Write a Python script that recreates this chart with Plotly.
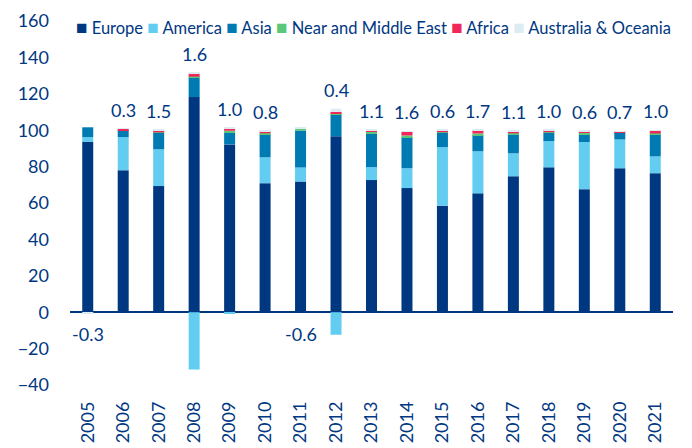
import plotly.graph_objects as go

years = [str(y) for y in range(2005, 2022)]
europe = [93.5, 78.0, 69.3, 118.2, 92.2, 70.9, 71.8, 96.7, 72.6, 68.2, 58.5, 65.3, 74.7, 79.6, 67.6, 79.1, 76.4]
america = [2.7, 18.2, 20.2, -31.5, -1.0, 14.2, 7.7, -12.4, 7.1, 10.9, 32.2, 23.1, 12.6, 14.4, 25.9, 15.8, 9.2]
asia = [5.4, 3.6, 9.1, 10.7, 6.5, 12.7, 20.3, 11.9, 18.2, 17.1, 7.9, 8.9, 10.5, 4.6, 4.3, 3.7, 12.2]
near_east = [0.0, 0.2, 0.2, 0.5, 1.0, 0.5, 1.3, 0.6, 1.1, 0.9, 0.3, 0.9, 0.5, 0.3, 0.8, 0.2, 0.4]
africa = [0.0, 0.7, 1.2, 1.9, 1.4, 1.2, 0.0, 0.8, 1.1, 2.0, 1.1, 1.8, 1.2, 1.1, 0.9, 0.5, 1.6]
australia = [-1.0, 0.2, 0.2, 0.3, 0.2, 0.2, 0.2, 1.8, 0.2, 0.2, 0.2, 0.2, 0.2, 0.2, 0.2, 0.2, 0.2]
growth = [-0.3, 0.3, 1.5, 1.6, 1.0, 0.8, -0.6, 0.4, 1.1, 1.6, 0.6, 1.7, 1.1, 1.0, 0.6, 0.7, 1.0]

series_names = ["Europe", "America", "Asia", "Near and Middle East", "Africa", "Australia & Oceania"]
series_values = [europe, america, asia, near_east, africa, australia]
series_colors = ["#003781", "#62CDF1", "#007AB3", "#5AC878", "#F0285A", "#DCECF2"]

TEXT = "#003781"
FONT = "Lato"

fig = go.Figure()
for name, vals, col in zip(series_names, series_values, series_colors):
    fig.add_trace(go.Bar(x=years, y=vals, name=name, marker=dict(color=col, line=dict(width=0)),
                         showlegend=False))

# growth labels
annotations = []
for i, yr in enumerate(years):
    pos_total = sum(v[i] for v in series_values if v[i] > 0)
    g = growth[i]
    if g >= 0:
        annotations.append(dict(x=i, y=pos_total, text=f"{g:.1f}", showarrow=False,
                                yanchor="middle", yshift=19, font=dict(size=18, color=TEXT, family=FONT)))
    else:
        annotations.append(dict(x=i, y=0, text=f"{g:.1f}", showarrow=False,
                                yanchor="middle", yshift=-22, font=dict(size=18, color=TEXT, family=FONT)))

# custom legend line
legend_parts = [f"<span style='color:{c};font-size:19px'>■</span> {n}" for n, c in zip(series_names, series_colors)]
annotations.append(dict(xref="paper", yref="paper", x=0.006, y=1.0, yshift=-5, xanchor="left", yanchor="middle",
                        text=" ".join(legend_parts), showarrow=False,
                        font=dict(size=16.5, color=TEXT, family=FONT)))

fig.update_layout(
    barmode="relative",
    bargap=0.69,
    width=684, height=440,
    margin=dict(l=62, r=19, t=13, b=63),
    paper_bgcolor="white", plot_bgcolor="white",
    font=dict(family=FONT, color=TEXT, size=18),
    annotations=annotations,
    xaxis=dict(type="category", range=[-0.5, len(years) - 0.5], showline=False, showgrid=False, ticks="",
               tickangle=-90, tickfont=dict(size=18, color=TEXT, family=FONT), ticklabelstandoff=12,
               automargin=False),
    yaxis=dict(range=[-40, 160], dtick=20, showgrid=False, showline=False, ticks="",
               zeroline=True, zerolinecolor=TEXT, zerolinewidth=2,
               tickfont=dict(size=18, color=TEXT, family=FONT), ticklabelstandoff=20,
               automargin=False),
)

fig.write_html("out.html")
